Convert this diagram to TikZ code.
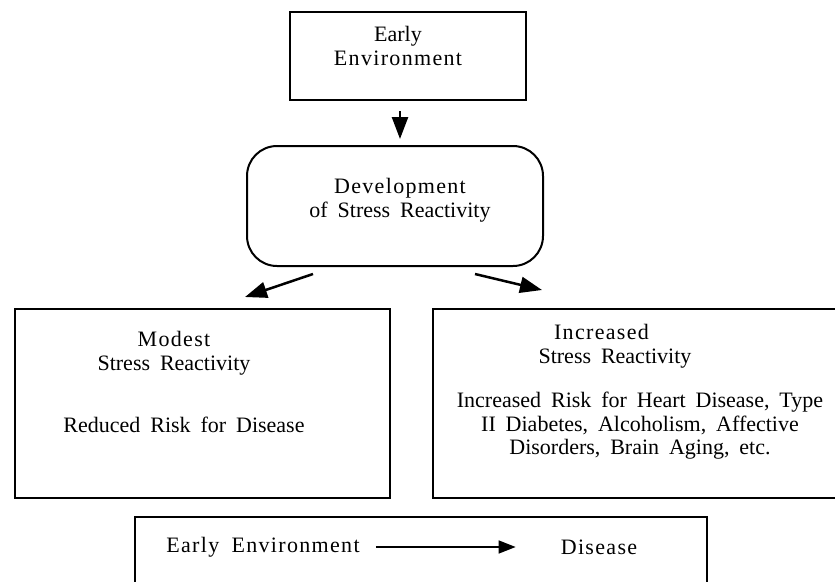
\documentclass[tikz,border=0pt]{standalone}
\usepackage{fontspec}
\setmainfont{Liberation Serif}[WordSpace=1.8]
\newfontfamily\wide[LetterSpace=6,WordSpace=1.8]{Liberation Serif}
\usetikzlibrary{arrows.meta,positioning}

\begin{document}
\begin{tikzpicture}[x=1pt,y=-1pt,
    box/.style={draw, line width=2pt, inner sep=0pt},
    txt/.style={align=center, inner sep=0pt, font=\fontsize{22}{23.5}\selectfont},
    arr/.style={line width=2.5pt, -{Triangle[length=22pt,width=16pt]}}]
  \useasboundingbox (0,0) rectangle (835,581);
  \clip (0,0) rectangle (835,581);

  \node[box, minimum width=236pt, minimum height=88pt] (env) at (408,56) {};
  \node[box, rounded corners=30pt, minimum width=296pt, minimum height=120pt] (dev) at (395,206) {};
  \node[box, minimum width=375pt, minimum height=189pt] (mod) at (202.5,403.5) {};
  \node[box, minimum width=427pt, minimum height=189pt] (inc) at (646.5,403.5) {};
  \node[box, minimum width=572pt, minimum height=103pt] (bot) at (421,568.5) {};

  \node[txt] (envT) at (398,46) {Early\\{\wide Environment}};
  \node[txt] (devT) at (400,200) {{\wide Development}\\of Stress Reactivity};
  \node[txt] (modT) at (174,353) {{\wide Modest}\\Stress Reactivity};
  \node[txt] (redT) at (184,425) {Reduced Risk for Disease};
  \node[txt] (incT) at (601.5,346) {{\wide Increased}\\\hspace*{27pt}Stress Reactivity};
  \node[txt] (riskT) at (640,426) {Increased Risk for Heart Disease, Type\\II Diabetes, Alcoholism, Affective\\Disorders, Brain Aging, etc.};
  \node[txt] (earlyT) at (263,547) {{\wide Early Environment}};
  \node[txt] (disT) at (599,547) {{\wide Disease}};

  \coordinate (le) at (245,297);
  \coordinate (re) at (542,290);

  \draw[arr, shorten <=10pt, shorten >=6pt] ([xshift=-8pt]env.south) -- ([xshift=5pt]dev.north);
  \draw[arr] ([xshift=-82pt,yshift=-7pt]dev.south) -- (le);
  \draw[arr] ([xshift=80pt,yshift=-7pt]dev.south) -- (re);
  \draw[line width=1.5pt, -{Triangle[length=17pt,width=13pt]}, shorten <=16pt, shorten >=45pt] (earlyT) -- (disT);
\end{tikzpicture}
\end{document}
